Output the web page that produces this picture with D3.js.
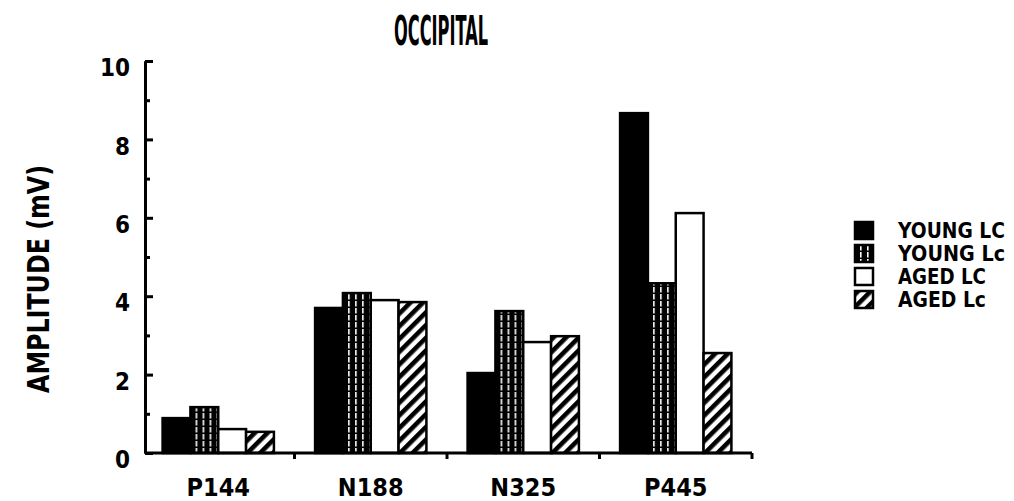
<!DOCTYPE html>
<html>
<head>
<meta charset="utf-8">
<script src="https://cdn.jsdelivr.net/npm/d3@7"></script>
<style>
  body { margin: 0; background: #fff; }
  svg text { font-family: 'Liberation Sans Narrow', 'DejaVu Sans Condensed', sans-serif; font-weight: bold; fill: #000; }
</style>
</head>
<body>
<svg id="chart" width="1014" height="501"></svg>
<script>
// data
var components = ['P144', 'N188', 'N325', 'P445'];
var groups = ['YOUNG LC', 'YOUNG Lc', 'AGED LC', 'AGED Lc'];
var youngLC = [0.89, 3.70, 2.04, 8.67];
var youngLc = [1.17, 4.08, 3.62, 4.33];
var agedLC = [0.61, 3.90, 2.83, 6.12];
var agedLc = [0.54, 3.85, 2.98, 2.55];
var yTicksMajor = [0, 2, 4, 6, 8, 10];
var yTicksMinor = [1, 3, 5, 7, 9];

var series = [youngLC, youngLc, agedLC, agedLc];
var fills = ['#000', 'url(#vstripe)', '#fff', 'url(#hatch)'];

var svg = d3.select('#chart');
var axisX = 145;

var y = d3.scaleLinear().domain([0, 10]).range([453, 61]);
var x0 = d3.scaleBand().domain(components).range([142, 752])
    .paddingInner(0.27).paddingOuter(0.135);
var x1 = d3.scaleBand().domain(groups).range([0, x0.bandwidth()]);

// fill patterns
var defs = svg.append('defs');
var vs = defs.append('pattern').attr('id', 'vstripe')
    .attr('patternUnits', 'userSpaceOnUse')
    .attr('width', 7).attr('height', 7)
    .attr('x', 2);
vs.append('rect').attr('width', 7).attr('height', 7).attr('fill', '#000');
vs.append('rect').attr('x', 3).attr('y', 0).attr('width', 1.6).attr('height', 5.5).attr('fill', '#fff');

var hp = defs.append('pattern').attr('id', 'hatch')
    .attr('patternUnits', 'userSpaceOnUse')
    .attr('width', 9).attr('height', 9)
    .attr('patternTransform', 'rotate(45)');
hp.append('rect').attr('width', 9).attr('height', 9).attr('fill', '#fff');
hp.append('rect').attr('width', 4.6).attr('height', 9).attr('fill', '#000');

// bars
var g = svg.append('g').selectAll('g')
    .data(components)
    .enter().append('g')
    .attr('transform', function (d) { return 'translate(' + x0(d) + ',0)'; });

g.selectAll('rect')
    .data(function (d, i) {
        return series.map(function (s, k) { return { key: groups[k], k: k, value: s[i] }; });
    })
    .enter().append('rect')
    .attr('x', function (d) { return x1(d.key); })
    .attr('y', function (d) { return y(d.value); })
    .attr('width', x1.bandwidth())
    .attr('height', function (d) { return y(0) - y(d.value); })
    .attr('fill', function (d) { return fills[d.k]; })
    .attr('stroke', '#000')
    .attr('stroke-width', 2.5);

// y axis
var yAxisMinor = svg.append('g')
    .attr('transform', 'translate(' + axisX + ',0)')
    .call(d3.axisLeft(y).tickValues(yTicksMinor).tickSize(-5).tickSizeOuter(0).tickFormat(''));
var yAxis = svg.append('g')
    .attr('transform', 'translate(' + axisX + ',0)')
    .call(d3.axisLeft(y).tickValues(yTicksMajor).tickSize(-8).tickSizeOuter(0).tickPadding(15));
svg.selectAll('.domain').attr('stroke-width', 3);
yAxis.selectAll('.tick line').attr('stroke-width', 3);
yAxisMinor.selectAll('.tick line').attr('stroke-width', 3);
yAxis.selectAll('text')
    .attr('font-size', 24)
    .attr('font-family', null)
    .attr('transform', 'translate(0,7)');

// x axis
svg.append('line')
    .attr('x1', axisX).attr('x2', x0.range()[1])
    .attr('y1', y(0)).attr('y2', y(0))
    .attr('stroke', '#000').attr('stroke-width', 3);

var step = x0.step();
svg.append('g').selectAll('line')
    .data(components)
    .enter().append('line')
    .attr('x1', function (d) { return x0(d) + x0.bandwidth() + step * x0.paddingInner() / 2; })
    .attr('x2', function (d) { return x0(d) + x0.bandwidth() + step * x0.paddingInner() / 2; })
    .attr('y1', y(0)).attr('y2', y(0) + 6)
    .attr('stroke', '#000').attr('stroke-width', 3);

svg.append('g').selectAll('text')
    .data(components)
    .enter().append('text')
    .attr('x', function (d) { return x0(d) + x0.bandwidth() / 2; })
    .attr('y', 496)
    .attr('text-anchor', 'middle')
    .attr('font-size', 25)
    .text(function (d) { return d; });

// title
svg.append('text')
    .attr('x', 441).attr('y', 45)
    .attr('text-anchor', 'middle')
    .attr('font-size', 41)
    .attr('textLength', 94)
    .attr('lengthAdjust', 'spacingAndGlyphs')
    .text('OCCIPITAL');

// y label
svg.append('text')
    .attr('transform', 'translate(49,279) rotate(-90)')
    .attr('text-anchor', 'middle')
    .attr('font-size', 31)
    .attr('textLength', 228)
    .attr('lengthAdjust', 'spacingAndGlyphs')
    .text('AMPLITUDE (mV)');

// legend
var legend = svg.append('g').selectAll('g')
    .data(groups)
    .enter().append('g')
    .attr('transform', function (d, i) { return 'translate(855,' + (222 + i * 23) + ')'; });

legend.append('rect')
    .attr('width', 18).attr('height', 17)
    .attr('fill', function (d, i) { return fills[i]; })
    .attr('stroke', '#000').attr('stroke-width', 2.5);

legend.append('text')
    .attr('x', 43).attr('y', 16)
    .attr('font-size', 22)
    .attr('textLength', function (d) { return d.indexOf('YOUNG') === 0 ? 107 : 88; })
    .attr('lengthAdjust', 'spacingAndGlyphs')
    .text(function (d) { return d; });
</script>
</body>
</html>
